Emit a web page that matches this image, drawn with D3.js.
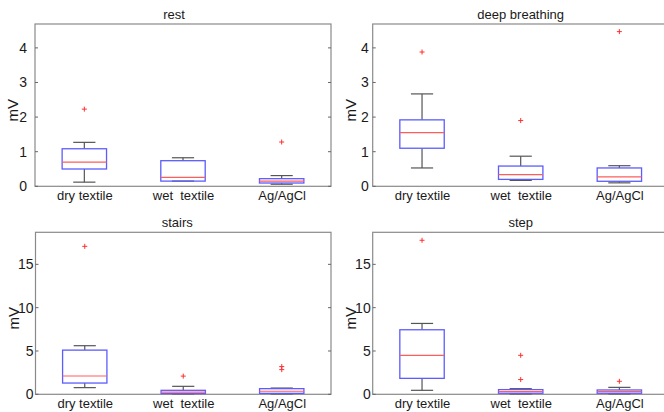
<!DOCTYPE html>
<html><head><meta charset="utf-8">
<script src="https://cdn.jsdelivr.net/npm/d3@7"></script>
<style>
html,body{margin:0;padding:0;background:#fff;overflow:hidden}
svg{display:block}
text{font-family:"Liberation Sans",Arial,Helvetica,sans-serif;fill:#1a1a1a}
</style></head>
<body>
<svg id="chart" width="664" height="412"></svg>
<script>
// ---- data ----
const categories = ["dry textile", "wet\u00a0\u00a0textile", "Ag/AgCl"];
const panelTitles = ["rest", "deep breathing", "stairs", "step"];
const yLabel = "mV";
const topTicks = [0, 1, 2, 3, 4];
const bottomTicks = [0, 5, 10, 15];
const topMax = 4.69;
const bottomMax = 18.7;

// rest
const restLow = [0.12, 0.15, 0.06];
const restQ1 = [0.50, 0.15, 0.095];
const restMedian = [0.70, 0.26, 0.15];
const restQ3 = [1.085, 0.74, 0.22];
const restHigh = [1.27, 0.825, 0.31];
const restOutliers = [[2.23], [], [1.28]];

// deep breathing
const deepLow = [0.53, 0.17, 0.10];
const deepQ1 = [1.10, 0.20, 0.145];
const deepMedian = [1.55, 0.335, 0.27];
const deepQ3 = [1.92, 0.585, 0.53];
const deepHigh = [2.67, 0.87, 0.595];
const deepOutliers = [[3.88], [1.90], [4.47]];

// stairs
const stairsLow = [0.77, 0.05, 0.05];
const stairsQ1 = [1.30, 0.08, 0.11];
const stairsMedian = [2.11, 0.25, 0.35];
const stairsQ3 = [5.10, 0.46, 0.65];
const stairsHigh = [5.61, 0.92, 0.72];
const stairsOutliers = [[17.08], [2.1], [3.2, 2.85]];

// step
const stepLow = [0.46, 0.05, 0.05];
const stepQ1 = [1.84, 0.12, 0.12];
const stepMedian = [4.49, 0.30, 0.31];
const stepQ3 = [7.45, 0.54, 0.50];
const stepHigh = [8.18, 0.65, 0.80];
const stepOutliers = [[17.78], [4.5, 1.7], [1.5]];

// ---- build ----
function stats(lo, q1, med, q3, hi, out) {
  return categories.map((c, i) => ({cat: c, idx: i + 1, lo: lo[i], q1: q1[i], med: med[i], q3: q3[i], hi: hi[i], out: out[i]}));
}
const panelData = [
  stats(restLow, restQ1, restMedian, restQ3, restHigh, restOutliers),
  stats(deepLow, deepQ1, deepMedian, deepQ3, deepHigh, deepOutliers),
  stats(stairsLow, stairsQ1, stairsMedian, stairsQ3, stairsHigh, stairsOutliers),
  stats(stepLow, stepQ1, stepMedian, stepQ3, stepHigh, stepOutliers)
];

const layout = [
  {x0: 35, x1: 331, y0: 24, y1: 186.3, max: topMax, ticks: topTicks, tgap: 8, titleDx: -9},
  {x0: 372.7, x1: 668.7, y0: 24, y1: 186.3, max: topMax, ticks: topTicks, tgap: 4, titleDx: 0},
  {x0: 35.5, x1: 331, y0: 232.3, y1: 394.3, max: bottomMax, ticks: bottomTicks, tgap: 2, titleDx: -6},
  {x0: 372.7, x1: 668.7, y0: 232.3, y1: 394.3, max: bottomMax, ticks: bottomTicks, tgap: 2, titleDx: 0}
];

const svg = d3.select("#chart");
const boxW = 0.45, capW = 0.225;

layout.forEach((L, p) => {
  const data = panelData[p];
  const x = d3.scaleLinear().domain([0.5, 3.5]).range([L.x0, L.x1]);
  const y = d3.scaleLinear().domain([0, L.max]).range([L.y1, L.y0]);
  const g = svg.append("g");

  // axes frame
  g.append("rect").attr("x", L.x0).attr("y", L.y0).attr("width", L.x1 - L.x0).attr("height", L.y1 - L.y0)
    .attr("fill", "none").attr("stroke", "#8a8a8a").attr("stroke-width", 1.2);

  // left axis with labels
  const yAxis = d3.axisLeft(y).tickValues(L.ticks).tickSize(0).tickPadding(L.tgap).tickFormat(d3.format("d"));
  const ya = g.append("g").attr("transform", `translate(${L.x0},0)`).call(yAxis);
  ya.select(".domain").remove();
  ya.selectAll("text").style("font-size", "14px").attr("fill", "#1a1a1a");
  // inner tick marks left and right
  g.selectAll(".tl").data(L.ticks).enter().append("line")
    .attr("x1", L.x0).attr("x2", L.x0 + 3).attr("y1", d => y(d)).attr("y2", d => y(d))
    .attr("stroke", "#666").attr("stroke-width", 1);
  g.selectAll(".tr").data(L.ticks).enter().append("line")
    .attr("x1", L.x1).attr("x2", L.x1 - 3).attr("y1", d => y(d)).attr("y2", d => y(d))
    .attr("stroke", "#666").attr("stroke-width", 1);

  // bottom axis labels
  const xAxis = d3.axisBottom(x).tickValues([1, 2, 3]).tickSize(0).tickPadding(4).tickFormat((d) => categories[d - 1]);
  const xa = g.append("g").attr("transform", `translate(0,${L.y1})`).call(xAxis);
  xa.select(".domain").remove();
  xa.selectAll("text").style("font-size", "13px").attr("fill", "#1a1a1a");

  // title
  g.append("text").attr("x", (L.x0 + L.x1) / 2 + L.titleDx).attr("y", L.y0 - 5)
    .attr("text-anchor", "middle").style("font-size", "13px").text(panelTitles[p]);
  // y label
  g.append("text").attr("transform", `translate(${L.x0 - 17},${(L.y0 + L.y1) / 2 + 5}) rotate(-90)`)
    .attr("text-anchor", "middle").style("font-size", "15px").text(yLabel);

  const b = g.selectAll(".box").data(data).enter().append("g");
  // whiskers
  b.append("line").attr("x1", d => x(d.idx)).attr("x2", d => x(d.idx)).attr("y1", d => y(d.q3)).attr("y2", d => y(d.hi))
    .attr("stroke", "#555").attr("stroke-width", 1.2);
  b.append("line").attr("x1", d => x(d.idx)).attr("x2", d => x(d.idx)).attr("y1", d => y(d.q1)).attr("y2", d => y(d.lo))
    .attr("stroke", "#555").attr("stroke-width", 1.2);
  b.append("line").attr("x1", d => x(d.idx - capW / 2)).attr("x2", d => x(d.idx + capW / 2)).attr("y1", d => y(d.hi)).attr("y2", d => y(d.hi))
    .attr("stroke", "#555").attr("stroke-width", 1.2);
  b.append("line").attr("x1", d => x(d.idx - capW / 2)).attr("x2", d => x(d.idx + capW / 2)).attr("y1", d => y(d.lo)).attr("y2", d => y(d.lo))
    .attr("stroke", "#555").attr("stroke-width", 1.2);
  // box
  b.append("rect").attr("x", d => x(d.idx - boxW / 2)).attr("width", d => x(d.idx + boxW / 2) - x(d.idx - boxW / 2))
    .attr("y", d => y(d.q3)).attr("height", d => Math.max(0.5, y(d.q1) - y(d.q3)))
    .attr("fill", "none").attr("stroke", "#5c5cff").attr("stroke-width", 1.3);
  // median
  b.append("line").attr("x1", d => x(d.idx - boxW / 2)).attr("x2", d => x(d.idx + boxW / 2)).attr("y1", d => y(d.med)).attr("y2", d => y(d.med))
    .attr("stroke", "#ff5c5c").attr("stroke-width", 1.2);
  // outliers
  b.each(function(d) {
    const s = d3.select(this);
    d.out.forEach(v => {
      const cx = x(d.idx), cy = y(v);
      s.append("path").attr("d", `M${cx - 2.5},${cy}H${cx + 2.5}M${cx},${cy - 2.5}V${cy + 2.5}`)
        .attr("stroke", "#ff3030").attr("stroke-width", 1);
    });
  });
});
</script>
</body></html>
